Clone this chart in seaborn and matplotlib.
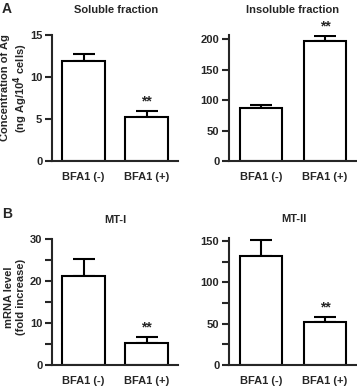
import matplotlib
matplotlib.use('Agg')
import matplotlib.pyplot as plt
import numpy as np
import pandas as pd
import seaborn as sns

# data
groups = ['BFA1 (-)', 'BFA1 (+)']
soluble = [11.9, 5.2]
soluble_err = [0.8, 0.8]
insoluble = [87, 196]
insoluble_err = [5, 9]
mt1 = [21.1, 5.3]
mt1_err = [4.1, 1.3]
mt2 = [132, 52]
mt2_err = [19, 6]

sns.set_style('ticks')
plt.rcParams['font.family'] = ['Liberation Sans', 'DejaVu Sans']
plt.rcParams['font.weight'] = 'bold'
plt.rcParams['font.size'] = 8
lw = 1.5
fs = 8

W, H = 357, 386
fig = plt.figure(figsize=(W / 100, H / 100), dpi=100)


def px_axes(left, top, right, bottom):
    return fig.add_axes([left / W, 1 - bottom / H, (right - left) / W,
                         (bottom - top) / H])


def bar_panel(ax, vals, errs, ylim, major, minor, star_idx):
    df = pd.DataFrame({'group': groups, 'value': vals})
    sns.barplot(data=df, x='group', y='value', ax=ax, color='white',
                edgecolor='black', linewidth=lw, width=0.67, saturation=1)
    xs = np.arange(len(vals))
    ax.errorbar(xs, vals, yerr=[np.zeros(len(errs)), errs], fmt='none',
                ecolor='black', elinewidth=lw, capsize=8, capthick=lw,
                zorder=1)
    for b in ax.patches:
        b.set_zorder(2)
    ax.set_xlim(-0.5, 1.5)
    ax.set_ylim(*ylim)
    ax.set_yticks(major)
    ax.set_yticks(minor, minor=True)
    ax.set_xlabel('')
    ax.set_ylabel('')
    sns.despine(ax=ax)
    ax.spines['left'].set_linewidth(lw)
    ax.spines['bottom'].set_linewidth(lw)
    ax.tick_params(axis='y', which='both', length=5, width=lw, pad=2,
                   labelsize=fs)
    ax.tick_params(axis='x', length=0, pad=8, labelsize=fs)
    for lab in ax.get_yticklabels() + ax.get_xticklabels():
        lab.set_fontweight('bold')
    i = star_idx
    ax.text(xs[i], vals[i] + errs[i] + ylim[1] * 0.02, '**',
            ha='center', va='bottom', fontsize=10, fontweight='bold')


ax1 = px_axes(52, 35, 178, 161)
bar_panel(ax1, soluble, soluble_err, (0, 15), [0, 5, 10, 15], [], 1)

ax2 = px_axes(229, 35, 357, 161)
bar_panel(ax2, insoluble, insoluble_err, (0, 206.6), [0, 50, 100, 150, 200],
          [], 1)

ax3 = px_axes(52, 239, 178, 365)
bar_panel(ax3, mt1, mt1_err, (0, 30), [0, 10, 20, 30], [5, 15, 25], 1)

ax4 = px_axes(229, 238, 357, 365)
bar_panel(ax4, mt2, mt2_err, (0, 153.6), [0, 50, 100, 150], [25, 75, 125], 1)


def ftext(x, y, s, **kw):
    fig.text(x / W, 1 - y / H, s, fontweight='bold', **kw)


ftext(116, 10, 'Soluble fraction', ha='center', va='center', fontsize=fs)
ftext(293, 10, 'Insoluble fraction', ha='center', va='center', fontsize=fs)
ftext(115, 220, 'MT-I', ha='center', va='center', fontsize=fs)
ftext(294, 219, 'MT-II', ha='center', va='center', fontsize=fs)
ftext(2, 9, 'A', ha='left', va='center', fontsize=10)
ftext(2, 214, 'B', ha='left', va='center', fontsize=10)
ftext(15, 88, 'Concentration of Ag\n(ng Ag/10$^\\mathbf{4}$ cells)',
      ha='center', va='center', rotation=90, fontsize=fs, linespacing=1.1)
ftext(15, 297, 'mRNA level\n(fold increase)', ha='center', va='center',
      rotation=90, fontsize=fs, linespacing=1.15)

fig.savefig('out.png', dpi=100)
